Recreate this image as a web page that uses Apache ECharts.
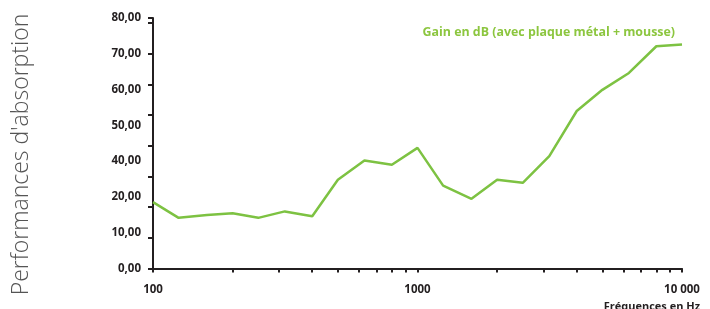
<!DOCTYPE html>
<html>
<head>
<meta charset="utf-8">
<script src="https://cdn.jsdelivr.net/npm/echarts@6/dist/echarts.min.js"></script>
<style>
  html, body { margin: 0; padding: 0; background: #fff; }
  #chart { width: 710px; height: 309px; }
</style>
</head>
<body>
<div id="chart"></div>
<script>
// third-octave frequencies (Hz)
var freqs = [100, 125, 160, 200, 250, 315, 400, 500, 630, 800, 1000,
  1250, 1600, 2000, 2500, 3150, 4000, 5000, 6300, 8000, 10000];
// gain in dB
var gain = [21.6, 16.5, 17.4, 18.0, 16.5, 18.6, 17.0, 28.9, 35.2, 33.8, 39.3,
  27.0, 22.7, 28.9, 27.9, 36.6, 51.3, 58.2, 63.7, 72.4, 73.0];
// y labels as printed on the original (no 30,00, evenly spread)
var yLabels = ['0,00', '10,00', '20,00', '40,00', '50,00', '60,00', '70,00', '80,00'];
var seriesName = 'Gain en dB (avec plaque métal + mousse)';

var green = '#7dc242';
var dark = '#231f20';
var font = 'Open Sans';

var chart = echarts.init(document.getElementById('chart'));

var points = freqs.map(function (f, i) { return [f, gain[i]]; });

chart.setOption({
  animation: false,
  legend: {
    right: 30,
    top: 20,
    icon: 'none',
    data: [seriesName],
    textStyle: { color: '#8cc63f', fontWeight: 'bold', fontSize: 12.4, fontFamily: font }
  },
  graphic: [{
    type: 'text',
    left: 10,
    top: 'middle',
    rotation: Math.PI / 2,
    style: { text: "Performances d'absorption", fill: '#555', font: '300 23px "Open Sans"' }
  }, {
    type: 'text',
    right: 10,
    top: 301,
    style: { text: 'Fréquences en Hz', fill: dark, font: 'bold 11px "Open Sans"' }
  }],
  grid: { left: 153, right: 28, top: 18, bottom: 40.5 },
  xAxis: {
    type: 'log',
    min: 100,
    max: 10000,
    axisLine: { onZero: false, lineStyle: { color: dark, width: 2 } },
    axisTick: { show: true, length: 4, lineStyle: { color: dark, width: 2 } },
    minorTick: { show: true, splitNumber: 9, length: 4, lineStyle: { color: dark, width: 2 } },
    axisLabel: {
      color: dark, fontWeight: 'bold', fontSize: 11.5, fontFamily: font, margin: 15,
      formatter: function (v) { return v === 10000 ? '10 000' : String(v); }
    },
    splitLine: { show: false }
  },
  yAxis: [{
    type: 'value',
    min: 0,
    max: 81.6,
    interval: 10,
    axisLine: { show: true, lineStyle: { color: dark, width: 2 } },
    axisTick: { show: true, length: 5, lineStyle: { color: dark, width: 2 } },
    axisLabel: { show: false },
    splitLine: { show: false }
  }, {
    type: 'value',
    position: 'left',
    min: 0,
    max: 7,
    interval: 1,
    axisLine: { show: false },
    axisTick: { show: false },
    axisLabel: {
      color: dark, fontWeight: 'bold', fontSize: 11.5, fontFamily: font, margin: 12,
      formatter: function (v) { return yLabels[Math.round(v)] || ''; }
    },
    splitLine: { show: false }
  }],
  series: [{
    name: seriesName,
    type: 'line',
    yAxisIndex: 0,
    data: points,
    symbol: 'none',
    lineStyle: { color: green, width: 2.5 },
    itemStyle: { color: green }
  }]
});
</script>
</body>
</html>
